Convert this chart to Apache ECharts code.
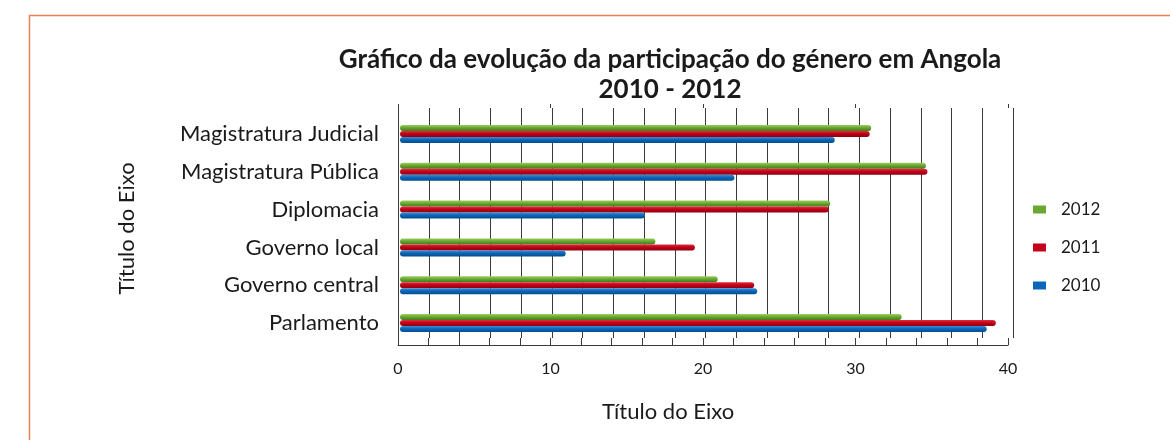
<!DOCTYPE html>
<html>
<head>
<meta charset="utf-8">
<script src="https://cdn.jsdelivr.net/npm/echarts@6/dist/echarts.min.js"></script>
<style>
  html, body { margin: 0; padding: 0; background: #fff; }
  #chart { width: 1170px; height: 440px; }
</style>
</head>
<body>
<div id="chart"></div>
<script>
// Categories, top to bottom
const categories = ['Magistratura Judicial', 'Magistratura Pública', 'Diplomacia', 'Governo local', 'Governo central', 'Parlamento'];
// Participation values per year
const values2012 = [31.0, 34.6, 28.3, 16.8, 20.9, 33.0];
const values2011 = [30.9, 34.7, 28.2, 19.4, 23.3, 39.2];
const values2010 = [28.6, 22.0, 16.1, 10.9, 23.5, 38.6];
const seriesNames = ['2012', '2011', '2010'];
const xTicks = { min: 0, max: 40, major: 10, minor: 2 };

const font = 'Lato, "Open Sans", sans-serif';
const txt = '#1a1a1a';
const lineCol = '#3a3a3a';

function grad(top, mid, bottom) {
  return new echarts.graphic.LinearGradient(0, 0, 0, 1, [
    { offset: 0, color: top }, { offset: 0.45, color: mid }, { offset: 1, color: bottom }
  ]);
}
const colors = {
  '2012': grad('#9ccf5c', '#6aa832', '#3f7a1a'),
  '2011': grad('#e0303c', '#c4001a', '#8c000e'),
  '2010': grad('#3c8ed8', '#0a66b8', '#044d8e')
};
const legendColors = { '2012': '#6aa832', '2011': '#c4001a', '2010': '#0a66b8' };
const seriesData = { '2012': values2012, '2011': values2011, '2010': values2010 };

const chart = echarts.init(document.getElementById('chart'), null, { renderer: 'canvas' });

const option = {
  animation: false,
  textStyle: { fontFamily: font },
  graphic: [{
    type: 'rect', left: 27, top: 13, silent: true,
    shape: { width: 1300, height: 600 },
    style: { fill: 'none', stroke: '#e8805c', lineWidth: 1.5 }
  }],
  title: {
    text: 'Gráfico da evolução da participação do género em Angola\n2010 - 2012',
    left: 665, top: 40, textAlign: 'center',
    textStyle: { fontFamily: font, fontSize: 26, fontWeight: 'bold', color: txt, lineHeight: 30 }
  },
  legend: {
    orient: 'vertical', left: 1033, top: 201, itemGap: 21, padding: 0,
    itemWidth: 13, itemHeight: 8, icon: 'rect',
    data: seriesNames.map(n => ({ name: n, itemStyle: { color: legendColors[n] } })),
    textStyle: { fontFamily: font, fontSize: 17, color: txt, padding: [0, 0, 0, 10] }
  },
  grid: [
    // back wall with the vertical gridlines
    { left: 398, right: 157, top: 108, bottom: 102 },
    // front frame: value axis and left edge
    { left: 398, right: 162, top: 108, bottom: 95 },
    // bars
    { left: 400, right: 162, top: 115, bottom: 98 }
  ],
  xAxis: [
    {
      gridIndex: 0, type: 'value', min: xTicks.min, max: xTicks.max, interval: xTicks.minor,
      axisLine: { show: false }, axisTick: { show: false }, axisLabel: { show: false },
      splitLine: { show: true, lineStyle: { color: lineCol, width: 1 } }
    },
    {
      gridIndex: 1, type: 'value', min: xTicks.min, max: xTicks.max, interval: xTicks.minor,
      axisLine: { show: true, lineStyle: { color: lineCol, width: 1 } },
      axisTick: { show: true, inside: true, length: 7, lineStyle: { color: lineCol } },
      axisLabel: {
        show: true, margin: 16, fontFamily: font, fontSize: 16, color: txt,
        formatter: v => (v % xTicks.major === 0 ? String(v) : '')
      },
      splitLine: { show: false },
      name: 'Título do Eixo', nameLocation: 'middle', nameGap: 56,
      nameTextStyle: { fontFamily: font, fontSize: 22, color: txt, padding: [0, 70, 0, 0] }
    },
    {
      gridIndex: 1, type: 'value', min: xTicks.min, max: xTicks.max, interval: xTicks.major,
      axisLine: { show: false },
      axisTick: { show: true, inside: false, length: 4, lineStyle: { color: lineCol } },
      axisLabel: { show: false }, splitLine: { show: false }
    },
    {
      gridIndex: 2, type: 'value', min: xTicks.min, max: xTicks.max, show: false
    }
  ],
  yAxis: [
    { gridIndex: 0, type: 'value', show: false },
    {
      gridIndex: 1, type: 'value', min: 0, max: 1,
      axisLine: { show: true, lineStyle: { color: lineCol, width: 1 } },
      axisTick: { show: false }, axisLabel: { show: false }, splitLine: { show: false }
    },
    {
      gridIndex: 2, type: 'category', data: categories, inverse: true,
      axisLine: { show: false }, axisTick: { show: false }, splitLine: { show: false },
      axisLabel: { show: true, margin: 21, fontFamily: font, fontSize: 22, color: txt },
      name: 'Título do Eixo', nameLocation: 'middle', nameGap: 262, nameRotate: 90,
      nameTextStyle: { fontFamily: font, fontSize: 22, color: txt }
    }
  ],
  series: seriesNames.map(n => ({
    name: n, type: 'bar', xAxisIndex: 3, yAxisIndex: 2,
    data: seriesData[n], barWidth: 6, barGap: '0%',
    itemStyle: { color: colors[n], borderRadius: 3 }
  }))
};

chart.setOption(option);
</script>
</body>
</html>
